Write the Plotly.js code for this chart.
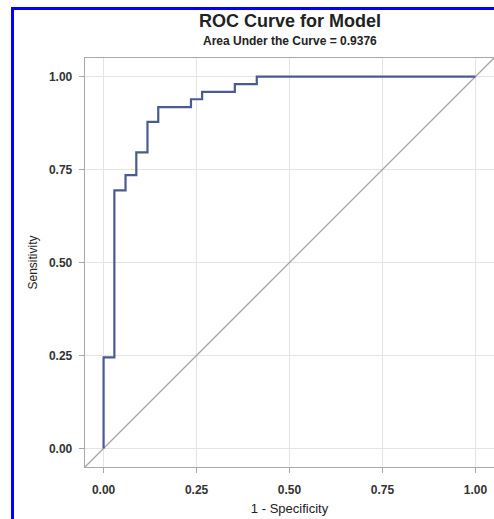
<!DOCTYPE html>
<html>
<head>
<meta charset="utf-8">
<script src="https://cdn.plot.ly/plotly-3.0.1.min.js"></script>
<style>
  html, body { margin: 0; padding: 0; background: #fff; }
  #wrap { position: relative; width: 494px; height: 519px; overflow: hidden; }
  #chart { position: absolute; left: 0; top: 0; width: 494px; height: 519px; }
  #frame { position: absolute; left: 11px; top: 7px; width: 600px; height: 600px;
           border-left: 3px solid #0000ff; border-top: 3px solid #0000ff; pointer-events: none; }
</style>
</head>
<body>
<div id="wrap">
  <div id="chart"></div>
  <div id="frame"></div>
</div>
<script>
// ROC curve vertices (1 - specificity, sensitivity)
const fpr = [0, 0, 0.029, 0.059, 0.088, 0.118, 0.147, 0.235, 0.265, 0.353, 0.412, 1.0];
const tpr = [0, 0.245, 0.694, 0.735, 0.796, 0.878, 0.918, 0.939, 0.959, 0.980, 1.0, 1.0];
const tickVals = [0, 0.25, 0.5, 0.75, 1.0];
const tickText = ["0.00", "0.25", "0.50", "0.75", "1.00"];
const axisRange = [-0.05, 1.05];
const titleText = "ROC Curve for Model";
const subtitleText = "Area Under the Curve = 0.9376";
const xTitle = "1 - Specificity";
const yTitle = "Sensitivity";

const font = "Liberation Sans, Arial, sans-serif";

const traces = [
  { x: axisRange, y: axisRange, mode: "lines", type: "scatter",
    line: { color: "#a6a6a6", width: 1.3 }, hoverinfo: "skip", showlegend: false },
  { x: fpr, y: tpr, mode: "lines", type: "scatter",
    line: { color: "#4a5a92", width: 2.2, shape: "hv" }, showlegend: false }
];

const axisCommon = {
  range: axisRange, tickvals: tickVals, ticktext: tickText,
  showgrid: true, gridcolor: "#e4e4e4", gridwidth: 1,
  zeroline: false, showline: true, linecolor: "#a8a8a8", linewidth: 1.3, mirror: true,
  ticks: "outside", ticklen: 5, tickcolor: "#a8a8a8", tickwidth: 1,
  tickfont: { family: font, size: 12, color: "#333", weight: "bold" }
};

const layout = {
  width: 494, height: 519,
  margin: { l: 85, r: 0, t: 58, b: 52, pad: 0 },
  paper_bgcolor: "#fff", plot_bgcolor: "#fff",
  font: { family: font, color: "#222" },
  xaxis: Object.assign({}, axisCommon, {
    ticklabelstandoff: 6,
    title: { text: xTitle, font: { family: font, size: 13, color: "#222" }, standoff: 8 }
  }),
  yaxis: Object.assign({}, axisCommon, {
    ticklabelstandoff: 4,
    title: { text: yTitle, font: { family: font, size: 12, color: "#222" }, standoff: 8 }
  }),
  annotations: [
    { text: titleText, xref: "paper", yref: "paper", x: 0.5, y: 1, yshift: 37, xanchor: "center", yanchor: "middle",
      showarrow: false, font: { family: font, size: 18, color: "#222", weight: "bold" } },
    { text: subtitleText, xref: "paper", yref: "paper", x: 0.5, y: 1, yshift: 17, xanchor: "center", yanchor: "middle",
      showarrow: false, font: { family: font, size: 12, color: "#222", weight: "bold" } }
  ],
  showlegend: false
};

Plotly.newPlot("chart", traces, layout, { displayModeBar: false, staticPlot: true });
</script>
</body>
</html>
